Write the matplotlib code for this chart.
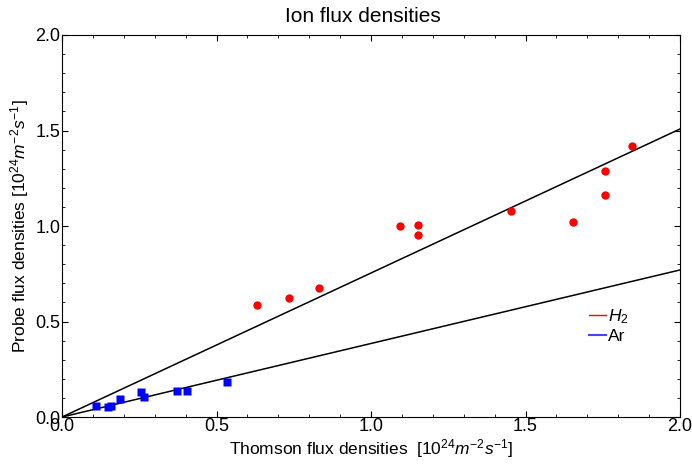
import matplotlib
matplotlib.use('Agg')
import matplotlib.pyplot as plt
from matplotlib.ticker import MultipleLocator
from matplotlib.lines import Line2D

plt.rcParams['font.family'] = ['Liberation Sans', 'DejaVu Sans']
plt.rcParams['mathtext.fontset'] = 'custom'
plt.rcParams['mathtext.rm'] = 'Liberation Sans'
plt.rcParams['mathtext.it'] = 'Liberation Sans:italic'

# H2 points (Thomson, probe) in 1e24 m^-2 s^-1
h2_thomson = [0.631, 0.735, 0.832, 1.094, 1.152, 1.152, 1.453, 1.654, 1.757, 1.757, 1.845]
h2_probe = [0.586, 0.623, 0.675, 1.000, 1.005, 0.953, 1.079, 1.021, 1.288, 1.162, 1.419]

# Ar points
ar_thomson = [0.109, 0.148, 0.158, 0.189, 0.255, 0.264, 0.373, 0.405, 0.535]
ar_probe = [0.059, 0.051, 0.056, 0.096, 0.129, 0.103, 0.134, 0.134, 0.181]

# fitted slopes
h2_slope = 0.754
ar_slope = 0.385
fit_x = [0.0, 2.0]

fig = plt.figure(figsize=(6.92, 4.71), dpi=100)
ax = fig.add_axes([0.0896, 0.1146, 0.8931, 0.8111])

ax.plot(fit_x, [h2_slope * v for v in fit_x], color='black', lw=1.1)
ax.plot(fit_x, [ar_slope * v for v in fit_x], color='black', lw=1.1)
ax.plot(h2_thomson, h2_probe, 'o', color='#ff0000', ms=6, mec='none')
ax.plot(ar_thomson, ar_probe, 's', color='#0000ff', ms=5.5, mec='none')

ax.set_xlim(0, 2.0)
ax.set_ylim(0, 2.0)
ax.xaxis.set_major_locator(MultipleLocator(0.5))
ax.yaxis.set_major_locator(MultipleLocator(0.5))
ax.xaxis.set_minor_locator(MultipleLocator(0.1))
ax.yaxis.set_minor_locator(MultipleLocator(0.1))
ax.tick_params(which='both', direction='in', top=True, right=True, labelsize=13)
ax.tick_params(which='major', length=4, width=0.8)
ax.tick_params(which='minor', length=2.5, width=0.6)
ax.xaxis.set_major_formatter(plt.FormatStrFormatter('%.1f'))
ax.yaxis.set_major_formatter(plt.FormatStrFormatter('%.1f'))
ax.tick_params(axis='x', pad=1)
ax.tick_params(axis='y', pad=1)

ax.set_xlabel(r'Thomson flux densities  [10$^{24}$$m^{-2}s^{-1}$]', fontsize=12.5, labelpad=1)
ax.set_ylabel(r'Probe flux densities [10$^{24}$$m^{-2}s^{-1}$]', fontsize=12.5, labelpad=3)
ax.set_title('Ion flux densities', fontsize=15, pad=9, x=0.487)

handles = [Line2D([], [], color='#ff0000', lw=1),
           Line2D([], [], color='#4444ff', lw=1.5)]
ax.legend(handles, [r'$H_2$', 'Ar'], loc='upper left', bbox_to_anchor=(0.838, 0.31),
          frameon=False, handlelength=1.0, handletextpad=0.1, fontsize=12.5,
          labelspacing=0.15, borderpad=0)

fig.savefig('out.png', dpi=100)
